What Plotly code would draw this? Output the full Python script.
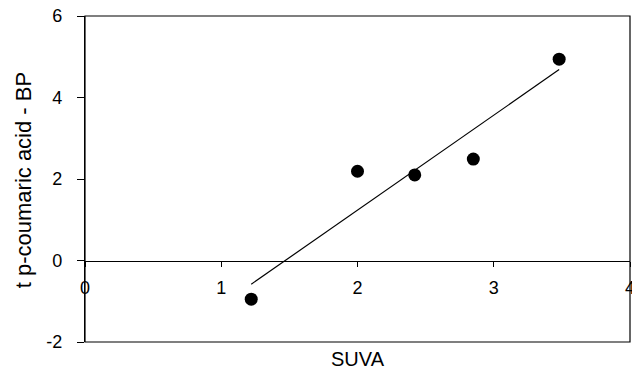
import numpy as np
import plotly.graph_objects as go

suva = [1.22, 2.00, 2.42, 2.85, 3.48]
coumaric = [-0.95, 2.19, 2.10, 2.49, 4.94]
x_ticks = [0, 1, 2, 3, 4]
y_ticks = [-2, 0, 2, 4, 6]
x_title = "SUVA"
y_title = "t p-coumaric acid - BP"

slope, intercept = np.polyfit(suva, coumaric, 1)
fit_x = [min(suva), max(suva)]
fit_y = [slope * v + intercept for v in fit_x]

W, H = 632, 371
ml, mr, mt, mb = 84.5, 1.5, 16, 29.3
xr = [0, 4]
yr = [-2, 6]

fig = go.Figure()
fig.add_trace(go.Scatter(x=fit_x, y=fit_y, mode="lines",
                         line=dict(color="black", width=1.2), hoverinfo="skip"))
fig.add_trace(go.Scatter(x=suva, y=coumaric, mode="markers",
                         marker=dict(color="black", size=13)))

font = dict(family="Liberation Sans, Arial, sans-serif", color="black")
fig.update_layout(
    width=W, height=H,
    margin=dict(l=ml, r=mr, t=mt, b=mb, pad=0, autoexpand=False),
    paper_bgcolor="white", plot_bgcolor="white",
    showlegend=False,
    font=dict(**font, size=18),
    xaxis=dict(range=xr, tickvals=x_ticks, ticktext=[str(v) for v in x_ticks],
               showgrid=False, zeroline=False, showline=True, linecolor="black",
               linewidth=1.2, ticks="outside", ticklen=5, tickwidth=1.2, tickcolor="black",
               anchor="free", position=(0 - yr[0]) / (yr[1] - yr[0]),
               ticklabelstandoff=6, ticklabeloverflow="allow", automargin=False,
               tickfont=dict(**font, size=18)),
    yaxis=dict(range=yr, tickvals=y_ticks, ticktext=[str(v) for v in y_ticks],
               showgrid=False, zeroline=False, showline=True, linecolor="black",
               linewidth=1.2, ticks="outside", ticklen=7, tickwidth=1.2, tickcolor="black",
               ticklabelstandoff=11, automargin=False,
               tickfont=dict(**font, size=18)),
    shapes=[dict(type="rect", xref="paper", yref="paper", x0=0, x1=1, y0=0, y1=1,
                 line=dict(color="black", width=1.2), layer="above")],
    annotations=[
        dict(text=x_title, xref="paper", yref="paper", x=0.5, y=-(358.5 - (H - mb)) / (H - mt - mb),
             showarrow=False, xanchor="center", yanchor="middle", font=dict(**font, size=20)),
        dict(text=y_title, xref="paper", yref="paper", x=-(ml - 23) / (W - ml - mr),
             y=1 - (180.5 - mt) / (H - mt - mb), textangle=-90,
             showarrow=False, xanchor="center", yanchor="middle", font=dict(**font, size=22)),
    ],
)
fig.write_html("out.html")
